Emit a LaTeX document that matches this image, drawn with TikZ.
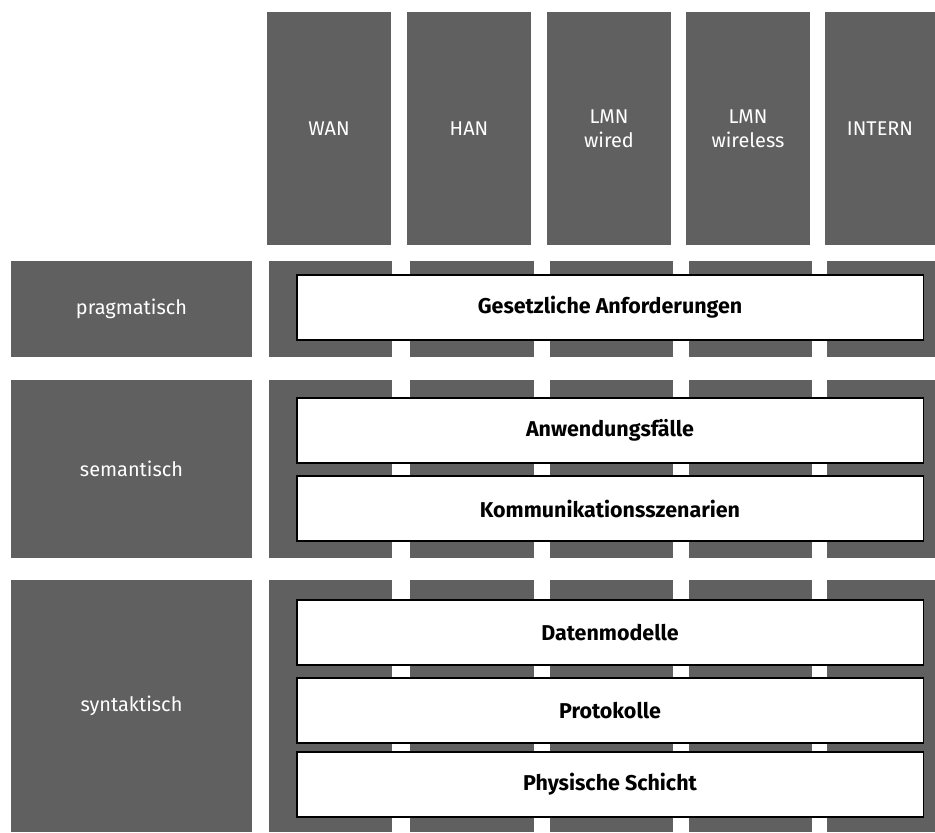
\documentclass[tikz,border=0pt]{standalone}
\usepackage{fontspec}
\setmainfont{Fira Sans}
\usepackage{xcolor}
\usepackage{tikz}
\usetikzlibrary{positioning}
\definecolor{layergray}{RGB}{96,96,96}
\tikzset{
	every node/.append style={inner sep=0pt, outer sep=0pt},
	graybox/.style = {
			fill       = layergray,
			text       = white,
			anchor     = north west,
			align      = center,
			font       = \fontsize{17}{20.5}\selectfont,
		},
	layerbox/.style = {
			fill           = white,
			draw           = black,
			line width     = 0.9pt,
			anchor         = north west,
			minimum width  = 18.78cm,
			minimum height = 1.95cm,
			font           = \bfseries\fontsize{18.3}{20}\selectfont,
		}
}

\begin{document}
\begin{tikzpicture}[x=0.03cm, y=-0.03cm]
	\useasboundingbox (0,0) rectangle (935,832);
	% spalten
	\node[graybox, minimum width=3.72cm, minimum height=6.99cm] at (267,12) (wan) {WAN};
	\node[graybox, minimum width=3.72cm, minimum height=6.99cm] at (407,12) (han) {HAN};
	\node[graybox, minimum width=3.72cm, minimum height=6.99cm] at (547,12) (lmnw) {LMN\\wired};
	\node[graybox, minimum width=3.72cm, minimum height=6.99cm] at (686,12) (lmnwl) {LMN\\wireless};
	\node[graybox, minimum width=3.3cm, minimum height=6.99cm] at (825,12) (intern) {INTERN};
	% zeilen
	\foreach \lft/\wd in {269/123, 410/124, 550/123, 689/123, 827/108} {
		\fill[layergray] (\lft,261) rectangle ++(\wd,96);
		\fill[layergray] (\lft,380) rectangle ++(\wd,178);
		\fill[layergray] (\lft,580) rectangle ++(\wd,252);
	}
	\node[graybox, minimum width=7.23cm, minimum height=2.88cm] at (11,261) (prag) {pragmatisch};
	\node[graybox, minimum width=7.23cm, minimum height=5.34cm] at (11,380) (sem) {semantisch};
	\node[graybox, minimum width=7.23cm, minimum height=7.56cm] at (11,580) (syn) {syntaktisch};
	% schichten
	\node[layerbox] at (297,275) (gesetz) {Gesetzliche Anforderungen};
	\node[layerbox] at (297,398) (anw) {Anwendungsfälle};
	\node[layerbox] at (297,476) (komm) {Kommunikationsszenarien};
	\node[layerbox] at (297,600) (daten) {Datenmodelle};
	\node[layerbox] at (297,678) (proto) {Protokolle};
	\node[layerbox] at (297,752) (phys) {Physische Schicht};
\end{tikzpicture}
\end{document}
